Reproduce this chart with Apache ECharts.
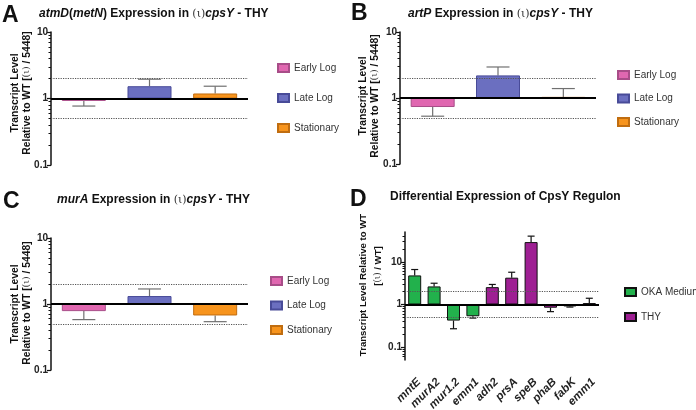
<!DOCTYPE html>
<html>
<head>
<meta charset="utf-8">
<script src="https://cdn.jsdelivr.net/npm/echarts@6/dist/echarts.min.js"></script>
<style>html,body{margin:0;padding:0;background:#fff;}#c{width:696px;height:410px;}</style>
</head>
<body>
<div id="c"></div>
<script>
// ---- data ----
const phaseCats = ['Early Log', 'Late Log', 'Stationary'];
const atmDValues = [0.92, 1.53, 1.19];
const atmDErrors = [0.77, 1.95, 1.53];
const artPValues = [0.73, 2.2, 1.04];
const artPErrors = [0.53, 2.95, 1.39];
const murAValues = [0.78, 1.32, 0.67];
const murAErrors = [0.58, 1.69, 0.54];
const regulonGenes = ['mntE', 'murA2', 'mur1.2', 'emm1', 'adh2', 'prsA', 'speB', 'phaB', 'fabK', 'emm1'];
const okaValues = [4.8, 2.65, 0.42, 0.53];
const okaErrors = [6.6, 3.15, 0.27, 0.48];
const thyValues = [2.55, 4.25, 29, 0.84, 0.9, 1.08];
const thyErrors = [2.95, 5.7, 40, 0.68, 0.87, 1.4];
const mediumNames = ['OKA Medium', 'THY'];
const majorTicks = [0.1, 1, 10];
const minorTicksAC = [0.2,0.3,0.4,0.5,0.6,0.7,0.8,0.9,2,3,4,5,6,7,8,9];
const minorTicksD = [0.06,0.07,0.08,0.09,0.2,0.3,0.4,0.5,0.6,0.7,0.8,0.9,2,3,4,5,6,7,8,9,20,30,40];
const refLines = [2, 0.5];

const FONT = 'Liberation Sans, Arial, sans-serif';
const phaseColors = ['#e067b0', '#6b6fc0', '#f7941d'];
const phaseBorders = ['#a84d88', '#484b98', '#c06d10'];
const mediumColors = ['#22b14c', '#9e1f93'];

const grids = [
  {left: 51, top: 32, width: 197, height: 133, outerBoundsMode: 'none', containLabel: false},
  {left: 400, top: 32, width: 196, height: 132, outerBoundsMode: 'none', containLabel: false},
  {left: 51, top: 238, width: 197, height: 132, outerBoundsMode: 'none', containLabel: false},
  {left: 405, top: 232, width: 194, height: 128, outerBoundsMode: 'none', containLabel: false}
];

const yAxes = [];
const xAxes = [];
const series = [];

function addAxes(gi, min, max, minor) {
  xAxes.push({gridIndex: gi, type: 'category', data: gi === 3 ? regulonGenes : phaseCats,
    axisLine: {show: false}, axisTick: {show: false},
    axisLabel: gi === 3 ? {show: true, interval: 0, rotate: 45, margin: 16, fontSize: 11.5,
      verticalAlign: 'top',
      fontStyle: 'italic', fontWeight: 'bold', color: '#222', fontFamily: FONT} : {show: false}});
  yAxes.push({gridIndex: gi, type: 'log', logBase: 10, min: min, max: max, position: 'left',
    axisLine: {show: true, lineStyle: {color: '#111', width: 1.5}},
    axisTick: {show: true, customValues: majorTicks, length: 4, lineStyle: {color: '#111', width: 1.2}},
    axisLabel: {show: true, customValues: majorTicks, margin: 3, fontSize: 10, fontWeight: 'bold',
      color: '#222', fontFamily: FONT, formatter: v => String(v)},
    splitLine: {show: false}});
  yAxes.push({gridIndex: gi, type: 'log', logBase: 10, min: min, max: max, position: 'left', offset: 0,
    axisLine: {show: false},
    axisTick: {show: true, customValues: minor, length: 2.5, lineStyle: {color: '#111', width: 1}},
    axisLabel: {show: false}, splitLine: {show: false}});
}

function markLines() {
  return {silent: true, symbol: 'none', label: {show: false},
    data: [
      {yAxis: 1, lineStyle: {type: 'solid', color: '#000', width: 2}},
      {yAxis: refLines[0], lineStyle: {type: 'dotted', color: '#555', width: 1.2}},
      {yAxis: refLines[1], lineStyle: {type: 'dotted', color: '#555', width: 1.2}}
    ]};
}

function errSeries(gi, values, errors, capHalf, color) {
  const data = values.map((v, i) => (v === '-' ? null : [i, v, errors[i]])).filter(d => d);
  series.push({type: 'custom', xAxisIndex: gi, yAxisIndex: gi * 2, z: 1, silent: true,
    data: data,
    encode: {x: 0, y: 1},
    renderItem: function (params, api) {
      const p0 = api.coord([api.value(0), api.value(1)]);
      const p1 = api.coord([api.value(0), api.value(2)]);
      return {type: 'group', children: [
        {type: 'line', shape: {x1: p0[0], y1: p0[1], x2: p1[0], y2: p1[1]}, style: {stroke: color, lineWidth: 1.2}},
        {type: 'line', shape: {x1: p1[0] - capHalf, y1: p1[1], x2: p1[0] + capHalf, y2: p1[1]}, style: {stroke: color, lineWidth: 1.2}}
      ]};
    }});
}

function phasePanel(gi, values, errors) {
  addAxes(gi, 0.1, 10, minorTicksAC);
  errSeries(gi, values, errors, 11.5, '#707070');
  phaseCats.forEach((name, k) => {
    const d = phaseCats.map((c, i) => (i === k ? values[i] : '-'));
    series.push({name: name, type: 'bar', xAxisIndex: gi, yAxisIndex: gi * 2, data: d,
      barWidth: 44, barGap: '-100%', z: 2,
      itemStyle: {color: phaseColors[k], borderColor: phaseBorders[k], borderWidth: 1},
      markLine: k === 0 ? markLines() : undefined});
  });
}

phasePanel(0, atmDValues, atmDErrors);
phasePanel(1, artPValues, artPErrors);
phasePanel(2, murAValues, murAErrors);

// panel D
addAxes(3, 0.05, 50, minorTicksD);
const okaFull = regulonGenes.map((g, i) => (i < okaValues.length ? okaValues[i] : '-'));
const okaErrFull = regulonGenes.map((g, i) => (i < okaErrors.length ? okaErrors[i] : '-'));
const thyFull = regulonGenes.map((g, i) => (i >= okaValues.length ? thyValues[i - okaValues.length] : '-'));
const thyErrFull = regulonGenes.map((g, i) => (i >= okaValues.length ? thyErrors[i - okaValues.length] : '-'));
errSeries(3, okaFull, okaErrFull, 3.5, '#111');
errSeries(3, thyFull, thyErrFull, 3.5, '#111');
series.push({name: mediumNames[0], type: 'bar', xAxisIndex: 3, yAxisIndex: 6, data: okaFull,
  barWidth: 13, barGap: '-100%', z: 2,
  itemStyle: {color: mediumColors[0], borderColor: '#111', borderWidth: 1}, markLine: markLines()});
series.push({name: mediumNames[1], type: 'bar', xAxisIndex: 3, yAxisIndex: 6, data: thyFull,
  barWidth: 13, barGap: '-100%', z: 2,
  itemStyle: {color: mediumColors[1], borderColor: '#111', borderWidth: 1}});

function legend(left, top, data, gap) {
  return {left: left, top: top, orient: 'vertical', itemWidth: 11, itemHeight: 8, itemGap: gap,
    selectedMode: false, data: data, icon: 'rect', padding: 0,
    textStyle: {fontSize: 10, color: '#333', fontFamily: FONT}};
}

const titleRich = {
  i: {fontStyle: 'italic', fontWeight: 'bold', fontSize: 12, fontFamily: FONT, color: '#111'},
  b: {fontWeight: 'bold', fontSize: 12, fontFamily: FONT, color: '#111'},
  s: {fontWeight: 'normal', fontSize: 11, fontFamily: 'DejaVu Serif, serif', color: '#333'}
};
function title(text, left, top) {
  return {text: text, left: left, top: top, padding: 0,
    textStyle: {rich: titleRich, fontSize: 12, fontWeight: 'bold', fontFamily: FONT}};
}

const labelRich = {
  b: {fontWeight: 'bold', fontSize: 10.3, fontFamily: FONT, fill: '#111'},
  s: {fontWeight: 'normal', fontSize: 9.5, fontFamily: 'DejaVu Serif, serif', fill: '#333'}
};
function vtext(text, x, y, size) {
  const rich = size ? {
    b: Object.assign({}, labelRich.b, {fontSize: size}),
    s: Object.assign({}, labelRich.s, {fontSize: size - 1})
  } : labelRich;
  return {type: 'text', x: x, y: y, rotation: Math.PI / 2,
    style: {text: text, rich: rich, fontSize: size || 10.3, fontWeight: 'bold', fontFamily: FONT, fill: '#111',
      align: 'center', verticalAlign: 'middle'}};
}
function letter(t, x, y) {
  return {type: 'text', x: x, y: y, style: {text: t, fontSize: 23, fontWeight: 'bold', fontFamily: FONT, fill: '#111'}};
}

const option = {
  animation: false,
  backgroundColor: '#fff',
  grid: grids,
  xAxis: xAxes,
  yAxis: yAxes,
  series: series,
  legend: [
    legend(277, 63, phaseCats, 20),
    legend(617, 70, phaseCats, 13.5),
    legend(270, 276, phaseCats, 14.5),
    legend(624, 287, mediumNames, 15)
  ],
  title: [
    title('{i|atmD}{b|(}{i|metN}{b|) Expression in }{s|(ι)}{i|cpsY}{b| - THY}', 39, 8),
    title('{i|artP}{b| Expression in }{s|(ι)}{i|cpsY}{b| - THY}', 408, 8),
    title('{i|murA}{b| Expression in }{s|(ι)}{i|cpsY}{b| - THY}', 57, 194),
    title('{b|Differential Expression of CpsY Regulon}', 390, 191)
  ],
  graphic: [
    letter('A', 2, 4), letter('B', 351, 2), letter('C', 3, 190), letter('D', 350, 188),
    vtext('{b|Transcript Level}', 15, 93), vtext('{b|Relative to WT [}{s|(ι)}{b| / 5448]}', 27, 93),
    vtext('{b|Transcript Level}', 363, 96), vtext('{b|Relative to WT [}{s|(ι)}{b| / 5448]}', 375, 96),
    vtext('{b|Transcript Level}', 15, 304), vtext('{b|Relative to WT [}{s|(ι)}{b| / 5448]}', 27, 303),
    vtext('{b|Transcript Level Relative to WT}', 363, 285, 9.6), vtext('{b|[}{s|(ι)}{b| / WT]}', 378, 266, 9.6)
  ]
};

const chart = echarts.init(document.getElementById('c'), null, {renderer: 'canvas'});
chart.setOption(option);
</script>
</body>
</html>
